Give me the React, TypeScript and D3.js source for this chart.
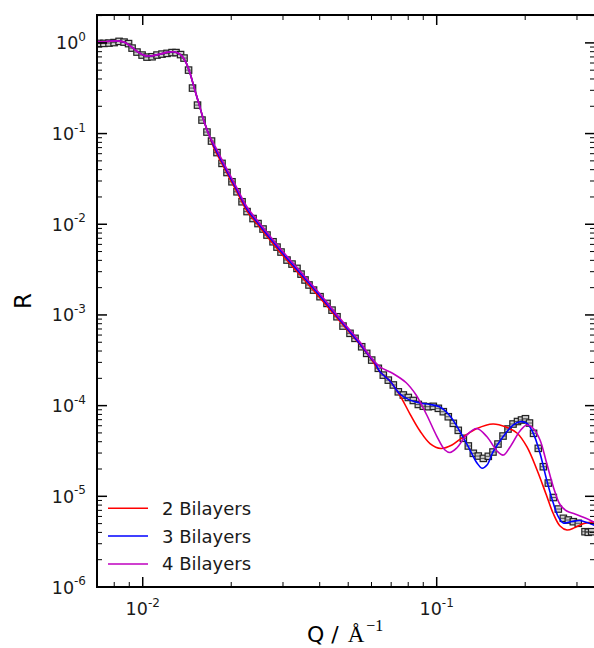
import React, { useEffect, useRef } from "react";
import * as d3 from "d3";

// measured reflectivity (Q in 1/A, R)
const qData = [0.00710,0.00738,0.00768,0.00799,0.00831,0.00864,0.00895,0.00920,0.00956,0.00995,
  0.01034,0.01076,0.01118,0.01163,0.01210,0.01258,0.01298,0.01345,0.01382,0.01432,
  0.01477,0.01536,0.01591,0.01654,0.01714,0.01789,0.01861,0.01935,0.02012,0.02093,
  0.02177,0.02264,0.02373,0.02467,0.02566,0.02647,0.02775,0.02863,0.02954,0.03096,
  0.03220,0.03348,0.03455,0.03565,0.03678,0.03811,0.04010,0.04236,0.04405,0.04580,
  0.04801,0.05071,0.05274,0.05557,0.05779,0.06010,0.06330,0.06582,0.06845,0.07119,
  0.07403,0.07699,0.08006,0.08326,0.08659,0.09004,0.09364,0.09737,0.1013,0.1053,
  0.1095,0.1139,0.1184,0.1232,0.1281,0.1332,0.1385,0.1441,0.1498,0.1554,
  0.1616,0.1681,0.1748,0.1818,0.1883,0.1943,0.2004,0.2068,0.2135,0.2216,
  0.2305,0.2397,0.2493,0.2592,0.2696,0.2803,0.2915,0.3031,0.3195,0.3278,0.3367];
const rData = [0.987,0.987,0.995,1.008,1.039,1.020,0.982,0.876,0.792,0.734,
  0.697,0.703,0.734,0.752,0.766,0.782,0.782,0.743,0.680,0.501,
  0.3175,0.206,0.1409,0.1039,0.0827,0.0617,0.0469,0.0372,0.0294,0.0228,
  0.0177,0.0138,0.01156,0.01018,0.00886,0.00760,0.00641,0.00560,0.00494,0.00403,
  0.00364,0.00326,0.00282,0.00243,0.00214,0.00188,0.00159,0.00134,0.00113,0.000955,
  0.000754,0.000627,0.000552,0.000446,0.000377,0.000318,0.000258,0.000217,0.000191,0.000169,
  0.000142,0.000131,0.000123,0.000114,0.000103,0.0000985,0.0000973,0.0000982,0.0000934,0.0000857,
  0.0000754,0.0000638,0.0000534,0.0000436,0.0000359,0.0000298,0.0000278,0.0000262,0.0000276,0.0000308,
  0.0000377,0.0000462,0.0000552,0.0000627,0.0000668,0.0000694,0.0000717,0.0000643,0.0000495,0.0000338,
  0.0000212,0.0000140,0.0000097,0.00000724,0.00000572,0.00000548,0.00000525,0.00000504,0.00000407,0.00000401,0.00000407];

// model fits, common low-Q part
const lowQ = [0.00699,0.00733,0.00774,0.00818,0.00864,0.00913,0.00964,0.01018,0.01076,0.01145,
  0.01210,0.01268,0.01318,0.01360,0.01404,0.01448,0.01494,0.01554,0.01616,0.01681];
const lowR = [1.034,1.026,1.041,1.052,1.020,0.910,0.792,0.724,0.721,0.752,
  0.786,0.798,0.772,0.715,0.606,0.465,0.326,0.2114,0.1373,0.0963];

const fit2Q = [0.01748,0.01833,0.01950,0.02093,0.02264,0.02467,0.02710,0.03048,0.03428,0.04010,
  0.04690,0.05483,0.05931,0.06413,0.06936,0.07503,0.08114,0.08774,0.09489,0.1034,
  0.1127,0.1229,0.1371,0.1554,0.1721,0.1875,0.2028,0.2194,0.2354,0.2487,
  0.2627,0.2775,0.2954,0.3170,0.3483];
const fit2R = [0.0692,0.0510,0.0349,0.0226,0.0140,0.00979,0.00669,0.00424,0.00276,0.00154,
  0.000846,0.000470,0.000340,0.000236,0.000187,0.000129,0.0000808,0.0000525,0.0000382,0.0000337,
  0.0000368,0.0000450,0.0000559,0.0000627,0.0000581,0.0000499,0.0000350,0.0000195,0.0000106,0.00000654,
  0.00000471,0.00000425,0.00000453,0.00000501,0.00000521];

const fit3Q = [0.01748,0.01833,0.01950,0.02093,0.02264,0.02467,0.02710,0.03048,0.03428,0.04010,
  0.04690,0.05483,0.05931,0.06168,0.06413,0.06936,0.07503,0.08114,0.08774,0.09489,
  0.1026,0.1110,0.1200,0.1298,0.1371,0.1426,0.1483,0.1554,0.1681,0.1818,
  0.1920,0.2028,0.2131,0.2246,0.2367,0.2493,0.2592,0.2696,0.2879,0.3072,
  0.3245,0.3483];
const fit3R = [0.0728,0.0537,0.0367,0.0238,0.0147,0.0103,0.00704,0.00446,0.00290,0.00162,
  0.000879,0.000478,0.000343,0.000295,0.000236,0.000187,0.000134,0.000115,0.000107,0.000103,
  0.0000965,0.0000768,0.0000516,0.0000324,0.0000233,0.0000204,0.0000221,0.0000308,0.0000454,0.0000611,
  0.0000665,0.0000638,0.0000495,0.0000298,0.0000151,0.00000837,0.00000596,0.00000508,0.00000528,0.00000541,
  0.00000514,0.00000471];

const fit4Q = [0.01748,0.01833,0.01950,0.02093,0.02264,0.02467,0.02710,0.03048,0.03428,0.04010,
  0.04690,0.05483,0.05931,0.06413,0.0710,0.0786,0.0851,0.0925,0.1000,0.1067,
  0.1110,0.1170,0.1265,0.1368,0.1480,0.1604,0.1685,0.1776,0.1920,0.2024,
  0.2131,0.2246,0.2367,0.2493,0.2627,0.2769,0.2954,0.3170,0.3483];
const fit4R = [0.0766,0.0565,0.0386,0.0250,0.0155,0.0108,0.00741,0.00469,0.00305,0.00170,
  0.000912,0.000503,0.000352,0.000268,0.000226,0.000180,0.000131,0.0000788,0.0000462,0.0000324,
  0.0000304,0.0000341,0.0000474,0.0000559,0.0000456,0.0000316,0.0000285,0.0000350,0.0000525,0.0000611,
  0.0000559,0.0000418,0.0000231,0.0000127,0.00000812,0.00000688,0.00000638,0.00000584,0.00000508];

const fitLabels = ["2 Bilayers", "3 Bilayers", "4 Bilayers"];
const fitColors = ["#ff0000", "#0000ff", "#bf00bf"];
const xMajor = [0.01, 0.1];
const yMajor = [1e-6, 1e-5, 1e-4, 1e-3, 1e-2, 1e-1, 1];

export default function App() {
  const ref = useRef<SVGSVGElement>(null);

  useEffect(() => {
    const svg = d3.select(ref.current);
    svg.selectAll("*").remove();

    const L = 97, T = 15, R = 595, B = 587;
    const x = d3.scaleLog().domain([0.00699, 0.3455]).range([L, R]);
    const y = d3.scaleLog().domain([1e-6, 2.03]).range([B, T]);
    const font = "DejaVu Sans, sans-serif";

    svg.append("defs").append("clipPath").attr("id", "plotclip")
      .append("rect").attr("x", L).attr("y", T).attr("width", R - L).attr("height", B - T);

    const plot = svg.append("g").attr("clip-path", "url(#plotclip)");

    // data squares
    const pts = qData.map((q, i) => ({ q, r: rData[i] }));
    const marks = plot.append("g");
    marks.selectAll("rect")
      .data(pts)
      .join("rect")
      .attr("x", d => x(d.q) - 3.2)
      .attr("y", d => y(d.r) - 3.2)
      .attr("width", 6.4)
      .attr("height", 6.4)
      .attr("fill", "#d0d0d0")
      .attr("stroke", "#222")
      .attr("stroke-width", 1.2);
    marks.selectAll("line")
      .data(pts)
      .join("line")
      .attr("x1", d => x(d.q) - 3)
      .attr("x2", d => x(d.q) + 3)
      .attr("y1", d => y(d.r))
      .attr("y2", d => y(d.r))
      .attr("stroke", "#333")
      .attr("stroke-width", 0.8);

    // fits
    const line = d3.line<[number, number]>()
      .x(d => x(d[0]))
      .y(d => y(d[1]))
      .curve(d3.curveCatmullRom.alpha(0.5));
    const fits = [
      [...lowQ, ...fit2Q].map((q, i) => [q, [...lowR, ...fit2R][i]] as [number, number]),
      [...lowQ, ...fit3Q].map((q, i) => [q, [...lowR, ...fit3R][i]] as [number, number]),
      [...lowQ, ...fit4Q].map((q, i) => [q, [...lowR, ...fit4R][i]] as [number, number]),
    ];
    plot.selectAll("path.fit")
      .data(fits)
      .join("path")
      .attr("class", "fit")
      .attr("d", d => line(d))
      .attr("fill", "none")
      .attr("stroke", (d, i) => fitColors[i])
      .attr("stroke-width", 1.6);

    // ticks
    const axes = svg.append("g").attr("stroke", "#000");
    const isMajor = (v: number) => Math.abs(Math.log10(v) - Math.round(Math.log10(v))) < 1e-6;
    const xt = x.ticks().filter(v => v >= 0.00699 && v <= 0.3455);
    const yt = y.ticks().filter(v => v >= 1e-6 && v <= 2.03);
    xt.forEach(v => {
      const len = isMajor(v) ? 10 : 5;
      const w = isMajor(v) ? 1.5 : 1;
      axes.append("line").attr("x1", x(v)).attr("x2", x(v)).attr("y1", B).attr("y2", B - len).attr("stroke-width", w);
      axes.append("line").attr("x1", x(v)).attr("x2", x(v)).attr("y1", T).attr("y2", T + len).attr("stroke-width", w);
    });
    yt.forEach(v => {
      const len = isMajor(v) ? 10 : 5;
      const w = isMajor(v) ? 1.5 : 1;
      axes.append("line").attr("y1", y(v)).attr("y2", y(v)).attr("x1", L).attr("x2", L + len).attr("stroke-width", w);
      axes.append("line").attr("y1", y(v)).attr("y2", y(v)).attr("x1", R).attr("x2", R - len).attr("stroke-width", w);
    });

    // frame
    svg.append("rect")
      .attr("x", L).attr("y", T).attr("width", R - L).attr("height", B - T)
      .attr("fill", "none").attr("stroke", "#000").attr("stroke-width", 2);

    // tick labels
    const yl = svg.append("g").attr("font-family", font).attr("font-size", 17.5).attr("fill", "#1a1a1a");
    yMajor.forEach(v => {
      const t = yl.append("text").attr("x", 86).attr("y", y(v) + 6.5).attr("text-anchor", "end").text("10");
      t.append("tspan").attr("dy", -8.5).attr("font-size", 12).text(String(Math.round(Math.log10(v))));
    });
    xMajor.forEach(v => {
      const t = yl.append("text").attr("x", x(v)).attr("y", 615).attr("text-anchor", "middle").text("10");
      t.append("tspan").attr("dy", -8.5).attr("font-size", 12).text(String(Math.round(Math.log10(v))));
    });

    // axis labels
    const xlab = svg.append("text").attr("x", 307).attr("y", 642)
      .attr("font-family", font).attr("font-size", 22).attr("fill", "#000");
    xlab.append("tspan").text("Q / ");
    xlab.append("tspan").attr("dx", 2).attr("font-family", "Liberation Serif, serif").attr("font-size", 23).text("Å");
    xlab.append("tspan").attr("dx", 2).attr("dy", -11).attr("font-family", "Liberation Serif, serif").attr("font-size", 16).text("−1");

    svg.append("text")
      .attr("transform", `translate(31, ${(T + B) / 2}) rotate(-90)`)
      .attr("text-anchor", "middle")
      .attr("font-family", font).attr("font-size", 23).attr("fill", "#000")
      .text("R");

    // legend
    const leg = svg.append("g").attr("font-family", font).attr("font-size", 18);
    fitLabels.forEach((lab, i) => {
      const ly = 508.3 + i * 27.8;
      leg.append("line").attr("x1", 108).attr("x2", 148).attr("y1", ly).attr("y2", ly)
        .attr("stroke", fitColors[i]).attr("stroke-width", 1.5);
      leg.append("text").attr("x", 162).attr("y", ly + 6.5).attr("fill", "#1a1a1a").text(lab);
    });
  }, []);

  return (
    <div style={{ position: "absolute", left: 0, top: 0 }}>
      <svg ref={ref} width={594} height={648} style={{ display: "block", background: "#fff" }} />
    </div>
  );
}
